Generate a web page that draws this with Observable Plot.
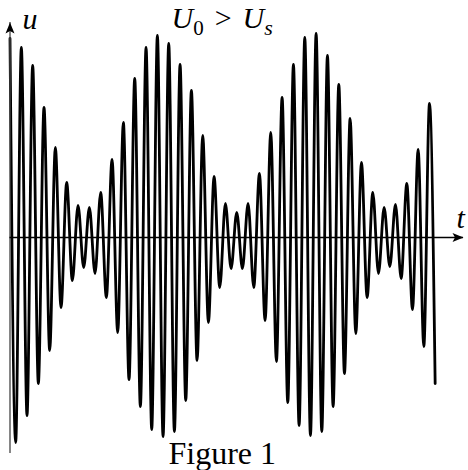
<!DOCTYPE html>
<html>
<head>
<meta charset="utf-8">
<script src="https://cdn.jsdelivr.net/npm/d3@7"></script>
<script src="https://cdn.jsdelivr.net/npm/@observablehq/plot@0.6"></script>
<style>
  html, body { margin: 0; padding: 0; background: #fff; }
  #chart svg { display: block; }
</style>
</head>
<body>
<div id="chart"></div>
<script>
// Successive extrema of the waveform u(t), one every half period
const halfPeriod = 0.5;
const uExtrema = [
  1.99, -2.05, 1.90, -1.78, 1.72, -1.46, 1.30, -1.13, 0.90, -0.70,
  0.55, -0.43, 0.32, -0.30, 0.30, -0.36, 0.45, -0.60, 0.78, -0.95,
  1.15, -1.42, 1.59, -1.69, 1.90, -1.92, 2.02, -1.99, 1.94, -1.94,
  1.73, -1.63, 1.47, -1.23, 1.02, -0.85, 0.61, -0.50, 0.34, -0.31,
  0.25, -0.31, 0.34, -0.50, 0.64, -0.83, 1.05, -1.24, 1.40, -1.65,
  1.73, -1.88, 2.00, -1.98, 2.04, -1.94, 1.82, -1.69, 1.53, -1.36,
  1.19, -0.96, 0.75, -0.60, 0.45, -0.36, 0.30, -0.29, 0.33, -0.41,
  0.54, -0.72, 0.88, -1.09, 1.34, -1.46
];
const tDomain = [0, 40];
const uDomain = [-2.16, 2.15];

const titleText = "U0 > Us";
const captionText = "Figure 1";
const yLabel = "u";
const xLabel = "t";

const wave = uExtrema.map((u, i) => ({t: i * halfPeriod, u}));

const arrowHead = {
  draw(ctx) {
    ctx.moveTo(0, 0);
    ctx.lineTo(-4.5, 11);
    ctx.lineTo(0, 8.5);
    ctx.lineTo(4.5, 11);
    ctx.closePath();
  }
};

const serif = "'Liberation Serif', 'DejaVu Serif', serif";

const chart = Plot.plot({
  width: 468,
  height: 470,
  marginLeft: 9.5,
  marginRight: 5,
  marginTop: 22,
  marginBottom: 17,
  x: {domain: tDomain, axis: null},
  y: {domain: uDomain, axis: null},
  marks: [
    Plot.line(wave, {x: "t", y: "u", curve: "monotone-x", stroke: "black", strokeWidth: 2.8}),
    Plot.ruleX([0], {stroke: "#444", strokeWidth: 1.3}),
    Plot.ruleY([0], {stroke: "black", strokeWidth: 1.3}),
    Plot.dot([{t: tDomain[0], u: uDomain[1]}], {x: "t", y: "u", symbol: arrowHead, fill: "black", stroke: "none", r: 5}),
    Plot.dot([{t: tDomain[1], u: 0}], {x: "t", y: "u", symbol: arrowHead, fill: "black", stroke: "none", r: 5, rotate: 90}),
    Plot.text([yLabel], {frameAnchor: "top-left", text: d => d, textAnchor: "start", lineAnchor: "bottom",
      dx: 12.5, dy: 6, fontFamily: serif, fontStyle: "italic", fontSize: 30, fill: "black"}),
    Plot.text([xLabel], {frameAnchor: "right", text: d => d, textAnchor: "start", lineAnchor: "bottom",
      dx: -7, dy: -10.5, fontFamily: serif, fontStyle: "italic", fontSize: 30, fill: "black"}),
    Plot.text([titleText], {frameAnchor: "top-left", text: d => d, textAnchor: "start", lineAnchor: "bottom",
      dx: 161.5, dy: 5, fontFamily: serif, fontSize: 30, fill: "black"}),
    Plot.text([captionText], {frameAnchor: "bottom-left", text: d => d, textAnchor: "start", lineAnchor: "bottom",
      dx: 158.5, dy: 10, fontFamily: serif, fontSize: 32, fill: "black"})
  ]
});

// Render the title with proper subscripts
const NS = "http://www.w3.org/2000/svg";
for (const el of chart.querySelectorAll("text")) {
  if (el.textContent === titleText) {
    el.textContent = "";
    const parts = [
      {s: "U", style: "italic"},
      {s: "0", size: 21, dy: 7},
      {s: ">", dy: -7, dx: 11},
      {s: "U", style: "italic", dx: 11},
      {s: "s", style: "italic", size: 22, dy: 7}
    ];
    for (const p of parts) {
      const ts = document.createElementNS(NS, "tspan");
      ts.textContent = p.s;
      if (p.style) ts.setAttribute("font-style", p.style);
      if (p.size) ts.setAttribute("font-size", p.size);
      if (p.dy) ts.setAttribute("dy", p.dy);
      if (p.dx) ts.setAttribute("dx", p.dx);
      el.appendChild(ts);
    }
  }
}

document.getElementById("chart").appendChild(chart);
</script>
</body>
</html>
